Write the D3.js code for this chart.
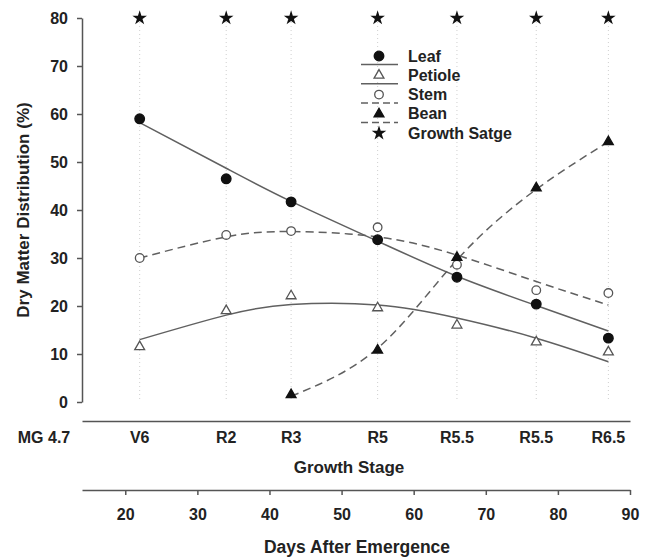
<!DOCTYPE html>
<html>
<head>
<meta charset="utf-8">
<script src="https://cdn.jsdelivr.net/npm/d3@7"></script>
<style>
  body { margin: 0; background: #fff; }
  text { font-family: "Liberation Sans", Arial, sans-serif; font-weight: bold; fill: #222; }
</style>
</head>
<body>
<div id="chart"></div>
<script>
// days after emergence for each sampling, with its growth stage
const days = [22, 34, 43, 55, 66, 77, 87];
const stages = ["V6", "R2", "R3", "R5", "R5.5", "R5.5", "R6.5"];

// measured dry matter distribution (%)
const leaf = [59, 46.5, 41.7, 33.8, 26, 20.4, 13.3];
const petiole = [11.5, 19, 22.1, 19.6, 16, 12.5, 10.4];
const stem = [30, 34.8, 35.6, 36.4, 28.6, 23.3, 22.7];
const beanDays = [43, 55, 66, 77, 87];
const bean = [1.5, 10.8, 30.1, 44.6, 54.2];

// fitted curves read at the same days
const leafFit = [58.2, 48.7, 41.8, 33.5, 26.2, 20.1, 14.8];
const petioleFit = [13.0, 18.1, 20.3, 20.2, 17.5, 13.3, 8.4];
const stemFit = [30.0, 34.4, 35.5, 34.4, 30.6, 25.1, 20.2];
const beanFit = [1.2, 11.2, 29.6, 44.3, 54.2];

const yTicks = [0, 10, 20, 30, 40, 50, 60, 70, 80];
const dayTicks = [20, 30, 40, 50, 60, 70, 80, 90];

const width = 652, height = 560;

const svg = d3.select("#chart").append("svg")
  .attr("width", width)
  .attr("height", height);

const x = d3.scaleLinear().domain([14, 90]).range([82, 630]);
const y = d3.scaleLinear().domain([0, 80]).range([402, 18]);

const axisColor = "#555";
const lineColor = "#606060";

// dotted guides at each sampling day
svg.append("g")
  .selectAll("line")
  .data(days)
  .join("line")
  .attr("x1", d => x(d)).attr("x2", d => x(d))
  .attr("y1", y(80)).attr("y2", y(0))
  .attr("stroke", "#cfcfcf")
  .attr("stroke-width", 1)
  .attr("stroke-dasharray", "1,3");

// y axis
const yAxis = svg.append("g")
  .attr("transform", "translate(82,0)")
  .call(d3.axisLeft(y).tickValues(yTicks).tickSize(5).tickSizeOuter(0).tickPadding(9));
yAxis.selectAll("path, line").attr("stroke", axisColor).attr("stroke-width", 1.5);
yAxis.selectAll("text").style("font-size", "16px").attr("fill", "#222")
  .style("font-family", "'Liberation Sans', Arial, sans-serif").style("font-weight", "bold");

svg.append("text")
  .attr("transform", "translate(29,210) rotate(-90)")
  .attr("text-anchor", "middle")
  .style("font-size", "17px")
  .text("Dry Matter Distribution (%)");

// growth stage axis (line only)
const sAxis = svg.append("g")
  .attr("transform", "translate(0,421)")
  .call(d3.axisBottom(x).tickValues([]).tickSizeOuter(0));
sAxis.selectAll("path").attr("stroke", axisColor).attr("stroke-width", 1.5);

svg.append("g")
  .selectAll("text")
  .data(stages)
  .join("text")
  .attr("x", (d, i) => x(days[i]))
  .attr("y", 443)
  .attr("text-anchor", "middle")
  .style("font-size", "16px")
  .text(d => d);

svg.append("text")
  .attr("x", 44).attr("y", 443)
  .attr("text-anchor", "middle")
  .style("font-size", "16px")
  .text("MG 4.7");

svg.append("text")
  .attr("x", 349).attr("y", 473)
  .attr("text-anchor", "middle")
  .style("font-size", "17px")
  .text("Growth Stage");

// days axis
const dAxis = svg.append("g")
  .attr("transform", "translate(0,490)")
  .call(d3.axisBottom(x).tickValues(dayTicks).tickSize(5).tickSizeOuter(0));
dAxis.selectAll("path, line").attr("stroke", axisColor).attr("stroke-width", 1.5);
dAxis.selectAll("text").attr("y", 30).attr("dy", null)
  .style("font-size", "16px").attr("fill", "#222")
  .style("font-family", "'Liberation Sans', Arial, sans-serif").style("font-weight", "bold");

svg.append("text")
  .attr("x", 357).attr("y", 553)
  .attr("text-anchor", "middle")
  .style("font-size", "17.5px")
  .text("Days After Emergence");

// fitted curves
const line = d3.line()
  .x(d => x(d[0]))
  .y(d => y(d[1]))
  .curve(d3.curveNatural);

const fits = [
  { xs: days, ys: leafFit, dash: null },
  { xs: days, ys: petioleFit, dash: null },
  { xs: days, ys: stemFit, dash: "8,5" },
  { xs: beanDays, ys: beanFit, dash: "8,5" }
];

svg.append("g")
  .selectAll("path")
  .data(fits)
  .join("path")
  .attr("d", f => line(f.xs.map((d, i) => [d, f.ys[i]])))
  .attr("fill", "none")
  .attr("stroke", lineColor)
  .attr("stroke-width", 1.5)
  .attr("stroke-dasharray", f => f.dash);

// markers
const tri = d3.symbol().type(d3.symbolTriangle).size(42);
const star = d3.symbol().type(d3.symbolStar).size(66);

function circles(xs, ys, filled) {
  svg.append("g")
    .selectAll("circle")
    .data(ys)
    .join("circle")
    .attr("cx", (d, i) => x(xs[i]))
    .attr("cy", d => y(d))
    .attr("r", filled ? 4.8 : 4.3)
    .attr("fill", filled ? "#111" : "#fff")
    .attr("stroke", filled ? "#111" : "#555")
    .attr("stroke-width", 1.3);
}

function triangles(xs, ys, filled) {
  svg.append("g")
    .selectAll("path")
    .data(ys)
    .join("path")
    .attr("d", tri)
    .attr("transform", (d, i) => "translate(" + x(xs[i]) + "," + y(d) + ")")
    .attr("fill", filled ? "#111" : "#fff")
    .attr("stroke", filled ? "#111" : "#555")
    .attr("stroke-width", 1.3);
}

circles(days, stem, false);
triangles(days, petiole, false);
circles(days, leaf, true);
triangles(beanDays, bean, true);

// growth stage stars along the top
svg.append("g")
  .selectAll("path")
  .data(days)
  .join("path")
  .attr("d", star)
  .attr("transform", d => "translate(" + x(d) + "," + y(80) + ")")
  .attr("fill", "#111");

// legend
const legendItems = [
  { name: "Leaf", kind: "circle", filled: true, dash: null, line: true },
  { name: "Petiole", kind: "tri", filled: false, dash: null, line: true },
  { name: "Stem", kind: "circle", filled: false, dash: "8,5", line: true },
  { name: "Bean", kind: "tri", filled: true, dash: "8,5", line: true },
  { name: "Growth Satge", kind: "star", filled: true, dash: null, line: false }
];

const legend = svg.append("g").attr("transform", "translate(379,56)");

legendItems.forEach((it, i) => {
  const g = legend.append("g").attr("transform", "translate(0," + i * 19.3 + ")");
  if (it.line) {
    g.append("line")
      .attr("x1", -18).attr("x2", 19)
      .attr("y1", 8.5).attr("y2", 8.5)
      .attr("stroke", lineColor)
      .attr("stroke-width", 1.5)
      .attr("stroke-dasharray", it.dash ? "7,4" : null);
  }
  if (it.kind === "circle") {
    g.append("circle")
      .attr("r", it.filled ? 4.8 : 4.3)
      .attr("fill", it.filled ? "#111" : "#fff")
      .attr("stroke", it.filled ? "#111" : "#555")
      .attr("stroke-width", 1.3);
  } else if (it.kind === "tri") {
    g.append("path").attr("d", tri)
      .attr("fill", it.filled ? "#111" : "#fff")
      .attr("stroke", it.filled ? "#111" : "#555")
      .attr("stroke-width", 1.3);
  } else {
    g.append("path").attr("d", star).attr("fill", "#111");
  }
  g.append("text")
    .attr("x", 29).attr("y", 5.5)
    .style("font-size", "16px")
    .text(it.name);
});
</script>
</body>
</html>
